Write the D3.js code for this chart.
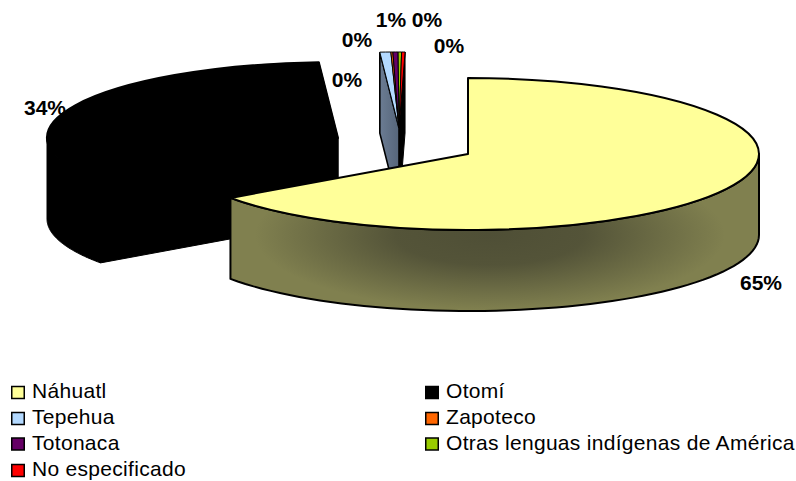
<!DOCTYPE html>
<html>
<head>
<meta charset="utf-8">
<script src="https://cdn.jsdelivr.net/npm/d3@7"></script>
<style>
  html, body { margin: 0; padding: 0; background: #fff; }
  text { font-family: "Liberation Sans", Arial, sans-serif; fill: #000; }
  .value { font-size: 21px; font-weight: bold; text-anchor: middle; }
  .legend-item { font-size: 21px; letter-spacing: 0.3px; }
</style>
</head>
<body>
<div id="chart"></div>
<script>
"use strict";

const categories = [
  "Náhuatl",
  "Otomí",
  "Tepehua",
  "Zapoteco",
  "Totonaca",
  "Otras lenguas indígenas de América",
  "No especificado",
];
const values = [65.2, 33.75, 0.6, 0.11, 0.3, 0.18, 0.19];
const valueLabels = ["65%", "34%", "1%", "0%", "0%", "0%", "0%"];
const colors = ["#ffff99", "#000000", "#b3d9ff", "#ff6600", "#660066", "#99cc00", "#ff0000"];

const W = 796;
const H = 481;
const RX = 291;
const RY = 76;
const DEPTH = 81;

// where each group of slices sits once exploded
const mainCentre = { x: 468, y: 154 };
const otomiCentre = { x: 338, y: 138 };
const smallCentre = { x: 399, y: 128 };
const centres = [mainCentre, otomiCentre, smallCentre, smallCentre, smallCentre, smallCentre, smallCentre];

const labelPos = [
  [761, 290],
  [45, 115],
  [391, 27],
  [427, 27],
  [449, 53],
  [357, 47],
  [347, 87],
];

const legendCols = [11, 425];
const legendRows = [398, 424, 449.5, 476];

const svg = d3.select("#chart").append("svg")
  .attr("width", W)
  .attr("height", H)
  .style("display", "block");

const defs = svg.append("defs");
const color = d3.scaleOrdinal().domain(categories).range(colors);

// d3.pie clamps to a full turn, but the tiny slices run a bit past 12 o'clock
// in the original, so the angles come from a plain percent scale
const angle = d3.scaleLinear().domain([0, 100]).range([0, 2 * Math.PI]);
const ends = Array.from(d3.cumsum(values));
const slices = values.map((v, i) => ({
  startAngle: angle(ends[i] - v),
  endAngle: angle(ends[i]),
}));

// unit arc, squashed to an ellipse with a transform
const arc = d3.arc().innerRadius(0).outerRadius(1);

function rimPoint(c, a, dy) {
  return [c.x + RX * Math.sin(a), c.y - RY * Math.cos(a) + (dy || 0)];
}

function wallPoints(c, a0, a1) {
  const steps = d3.range(0, 61).map((i) => a0 + ((a1 - a0) * i) / 60);
  return steps.map((a) => rimPoint(c, a)).concat(steps.reverse().map((a) => rimPoint(c, a, DEPTH)));
}

const closedLine = d3.line().curve(d3.curveLinearClosed);

function drawTop(s, i, strokeWidth) {
  const c = centres[i];
  svg.append("path")
    .attr("d", arc(s))
    .attr("transform", `translate(${c.x},${c.y}) scale(${RX},${RY})`)
    .attr("fill", color(categories[i]))
    .attr("stroke", "#000")
    .attr("stroke-width", strokeWidth)
    .attr("stroke-linejoin", "round")
    .attr("vector-effect", "non-scaling-stroke");
}

function cutFace(c, a) {
  const p = rimPoint(c, a);
  return [p, [c.x, c.y], [c.x, c.y + DEPTH], [p[0], p[1] + DEPTH]];
}

// Otomí, everything black
[
  cutFace(otomiCentre, slices[1].startAngle),
  cutFace(otomiCentre, slices[1].endAngle),
  wallPoints(otomiCentre, slices[1].startAngle, (3 * Math.PI) / 2),
].forEach((pts) => {
  svg.append("path")
    .attr("d", closedLine(pts))
    .attr("fill", "#000")
    .attr("stroke", "#000")
    .attr("stroke-width", 1);
});
drawTop(slices[1], 1, 2);

// the thin exploded wedges
const smallEnd = slices[slices.length - 1].endAngle;
svg.append("path")
  .attr("d", closedLine(cutFace(smallCentre, smallEnd)))
  .attr("fill", "#000")
  .attr("stroke", "#000");

const greyGrad = defs.append("linearGradient").attr("id", "grey");
greyGrad.append("stop").attr("offset", 0).attr("stop-color", "#6b7c93");
greyGrad.append("stop").attr("offset", 1).attr("stop-color", "#56657a");
svg.append("path")
  .attr("d", closedLine(cutFace(smallCentre, slices[2].startAngle)))
  .attr("fill", "url(#grey)")
  .attr("stroke", "#000")
  .attr("stroke-width", 1.6);

slices.slice(2).forEach((s, i) => drawTop(s, i + 2, 1));

// Náhuatl wall: olive with a dark shading in the middle
const wallId = "nahuatl-wall";
const yellowWall = wallPoints(mainCentre, Math.PI / 2, slices[0].endAngle);
defs.append("clipPath").attr("id", wallId).append("path").attr("d", closedLine(yellowWall));

const shade = defs.append("radialGradient")
  .attr("id", "shade")
  .attr("gradientUnits", "userSpaceOnUse")
  .attr("cx", 0).attr("cy", 0).attr("r", 1)
  .attr("gradientTransform", "translate(490,235) scale(235,75)");
shade.append("stop").attr("offset", 0).attr("stop-color", "#4f4f36").attr("stop-opacity", 1);
shade.append("stop").attr("offset", 0.4).attr("stop-color", "#4f4f36").attr("stop-opacity", 0.9);
shade.append("stop").attr("offset", 1).attr("stop-color", "#4f4f36").attr("stop-opacity", 0);

svg.append("path").attr("d", closedLine(yellowWall)).attr("fill", "#80804f");
svg.append("rect")
  .attr("x", 0).attr("y", 0).attr("width", W).attr("height", H)
  .attr("clip-path", `url(#${wallId})`)
  .attr("fill", "url(#shade)");
svg.append("path")
  .attr("d", closedLine(yellowWall))
  .attr("fill", "none")
  .attr("stroke", "#000")
  .attr("stroke-width", 2)
  .attr("stroke-linejoin", "round");
drawTop(slices[0], 0, 2);

// percent labels
svg.append("g").selectAll("text")
  .data(valueLabels)
  .enter()
  .append("text")
  .attr("class", "value")
  .attr("x", (d, i) => labelPos[i][0])
  .attr("y", (d, i) => labelPos[i][1])
  .text((d) => d);

// legend, filled down the rows two per line
const legend = svg.append("g");
const items = legend.selectAll("g")
  .data(categories)
  .enter()
  .append("g")
  .attr("transform", (d, i) => `translate(${legendCols[i % 2]},${legendRows[Math.floor(i / 2)]})`);

items.append("rect")
  .attr("x", 0.75).attr("y", -11.5)
  .attr("width", 12.5).attr("height", 12)
  .attr("fill", (d) => color(d))
  .attr("stroke", "#000")
  .attr("stroke-width", 1.5);

items.append("text")
  .attr("class", "legend-item")
  .attr("x", 21)
  .text((d) => d);
</script>
</body>
</html>
